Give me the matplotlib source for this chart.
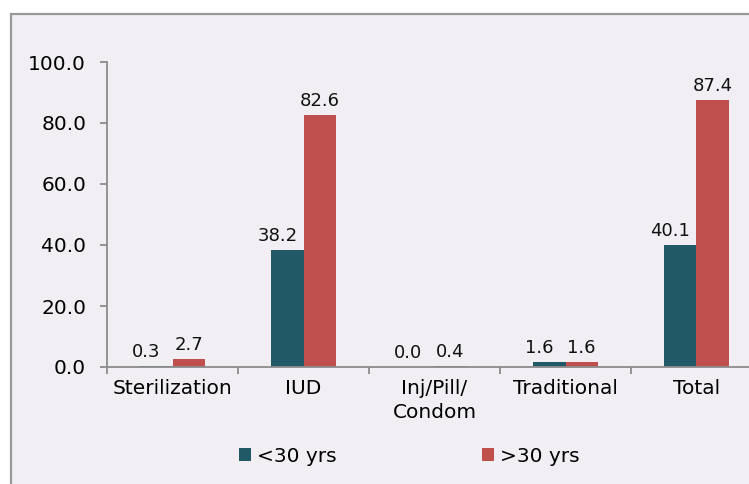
import numpy as np
import matplotlib
matplotlib.use("Agg")
import matplotlib.pyplot as plt
from matplotlib.patches import Rectangle

categories = ["Sterilization", "IUD", "Inj/Pill/\nCondom", "Traditional", "Total"]
under_30 = [0.3, 38.2, 0.0, 1.6, 40.1]
over_30 = [2.7, 82.6, 0.4, 1.6, 87.4]
series_names = ["<30 yrs", ">30 yrs"]
yticks = [0, 20, 40, 60, 80, 100]

blue = "#215967"
red = "#C0504D"
bg = "#F1EFF4"
axis_grey = "#8C8C8C"

plt.rcParams['font.family'] = ['DejaVu Sans']

W, H = 749, 484
fig = plt.figure(figsize=(W / 100, H / 100), dpi=100)
fig.patch.set_facecolor("white")

# outer chart frame (runs off the right and bottom of the picture)
fig.patches.append(Rectangle((11 / W, -0.1), 1.2, 1 - 14 / H + 0.1, transform=fig.transFigure,
                             facecolor=bg, edgecolor="#9A9A9A", linewidth=1.6, zorder=-10))

left, right = 107, 107 + 5 * 131
bottom, top = 367, 62
ax = fig.add_axes([left / W, 1 - bottom / H, (right - left) / W, (bottom - top) / H])
ax.set_facecolor("none")

x = np.arange(len(categories))
bw = 0.245
b1 = ax.bar(x - bw / 2, under_30, bw, color=blue, label=series_names[0], zorder=2)
b2 = ax.bar(x + bw / 2, over_30, bw, color=red, label=series_names[1], zorder=2)

for rect, v in zip(b1, under_30):
    ax.annotate(f"{v:.1f}", (rect.get_x() + rect.get_width() / 2, rect.get_height()),
                xytext=(-10, 5), textcoords="offset pixels", ha="center", va="bottom",
                fontsize=13, color="#111111")
for rect, v in zip(b2, over_30):
    ax.annotate(f"{v:.1f}", (rect.get_x() + rect.get_width() / 2, rect.get_height()),
                xytext=(0, 5), textcoords="offset pixels", ha="center", va="bottom",
                fontsize=13, color="#111111")

ax.set_xlim(-0.5, len(categories) - 0.5)
ax.set_ylim(0, 100)
ax.set_yticks(yticks)
ax.set_yticklabels([f"{t:.1f}" for t in yticks])
ax.set_xticks(x)
ax.set_xticklabels(categories)
ax.set_xticks(np.arange(len(categories) + 1) - 0.5, minor=True)

for s in ["top", "right"]:
    ax.spines[s].set_visible(False)
for s in ["left", "bottom"]:
    ax.spines[s].set_color(axis_grey)
    ax.spines[s].set_linewidth(1.3)

ax.tick_params(axis="y", length=5, width=1.3, color=axis_grey, pad=10, labelsize=14.5)
ax.tick_params(axis="x", which="major", length=0, pad=9, labelsize=14.5)
ax.tick_params(axis="x", which="minor", length=5, width=1.3, color=axis_grey)
for lab in ax.get_xticklabels():
    lab.set_linespacing(1.3)

fig.legend(handles=[b1, b2], labels=series_names, loc="center", ncol=2,
           bbox_to_anchor=(409 / W, 1 - 456 / H), frameon=False, fontsize=14.5,
           handlelength=0.6, handleheight=0.6, handletextpad=0.3, columnspacing=7.2)

fig.savefig("out.png", dpi=100, facecolor=fig.get_facecolor())
